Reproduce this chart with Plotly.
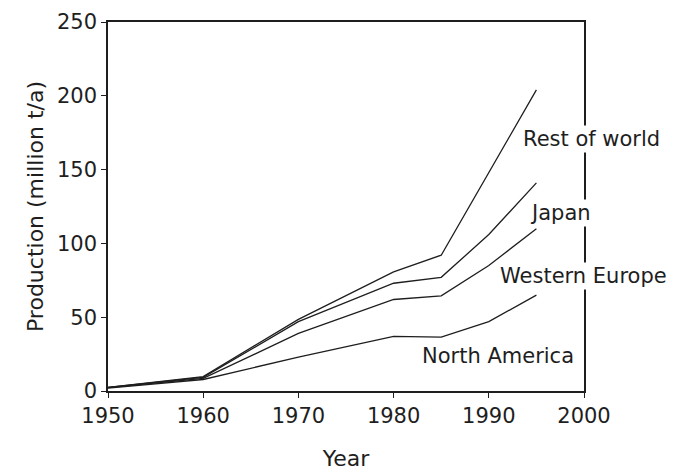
import plotly.graph_objects as go

years = [1950, 1960, 1970, 1980, 1985, 1990, 1995]
# Production by region (million t/a), drawn stacked (cumulative lines)
north_america = [2.0, 7.8, 23.0, 37.0, 36.5, 47.0, 65.0]
western_europe = [0.3, 0.7, 16.0, 25.0, 28.0, 38.0, 45.0]
japan = [0.1, 0.7, 8.0, 11.0, 12.5, 21.0, 31.0]
rest_of_world = [0.1, 0.6, 1.5, 7.7, 15.0, 42.0, 63.0]

series = [
    ("North America", north_america),
    ("Western Europe", western_europe),
    ("Japan", japan),
    ("Rest of world", rest_of_world),
]

# label anchor positions (x in paper fraction, y in data units)
label_names = ["Rest of world", "Japan", "Western Europe", "North America"]
label_x = [1.016, 0.9496, 0.998, 0.819]
label_y = [170.5, 120.5, 78.0, 23.5]

x_ticks = [1950, 1960, 1970, 1980, 1990, 2000]
y_ticks = [0, 50, 100, 150, 200, 250]

FONT = "DejaVu Sans"
INK = "#1e1e1e"

fig = go.Figure()
for name, vals in series:
    fig.add_trace(go.Scatter(
        x=years, y=vals, name=name, mode="lines",
        stackgroup="one", fill="none",
        line=dict(color=INK, width=1.3),
        hoverinfo="x+y+name",
    ))

for t, lx, ly in zip(label_names, label_x, label_y):
    fig.add_annotation(
        x=lx, y=ly, xref="paper", yref="y", text=t, showarrow=False,
        font=dict(family=FONT, size=21, color=INK),
        bgcolor="white", borderpad=1, xanchor="center", yanchor="middle",
    )

fig.update_layout(
    width=676, height=472,
    margin=dict(l=108, r=92, t=22, b=81),
    paper_bgcolor="white", plot_bgcolor="white",
    showlegend=False,
    font=dict(family=FONT, size=21, color=INK),
    xaxis=dict(
        range=[1950, 2000], tickvals=x_ticks, ticktext=[str(v) for v in x_ticks],
        showgrid=False, zeroline=False, automargin=False,
        showline=True, linecolor=INK, linewidth=1.5, mirror=True,
        ticks="outside", ticklen=5, tickwidth=1.2, tickcolor=INK,
        tickfont=dict(family=FONT, size=21, color=INK),
        title=dict(text="Year", font=dict(family=FONT, size=22, color=INK), standoff=24),
    ),
    xaxis2=dict(
        overlaying="x", matches="x", side="bottom", range=[1950, 2000],
        tickvals=x_ticks, showticklabels=False, showgrid=False, zeroline=False,
        showline=False, ticks="inside", ticklen=4, tickwidth=1.2, tickcolor=INK,
        automargin=False,
    ),
    yaxis=dict(
        range=[0, 250], tickvals=y_ticks, ticktext=[str(v) for v in y_ticks],
        showgrid=False, zeroline=False, automargin=False,
        showline=True, linecolor=INK, linewidth=1.5, mirror=True,
        ticks="outside", ticklen=5, tickwidth=1.2, tickcolor=INK,
        tickfont=dict(family=FONT, size=21, color=INK),
        title=dict(text="Production (million t/a)", font=dict(family=FONT, size=22, color=INK), standoff=7),
    ),
)

fig.write_html(
    "out.html",
    config={"displayModeBar": False},
    post_script="document.body.style.margin='0';document.body.style.overflow='hidden';",
)
